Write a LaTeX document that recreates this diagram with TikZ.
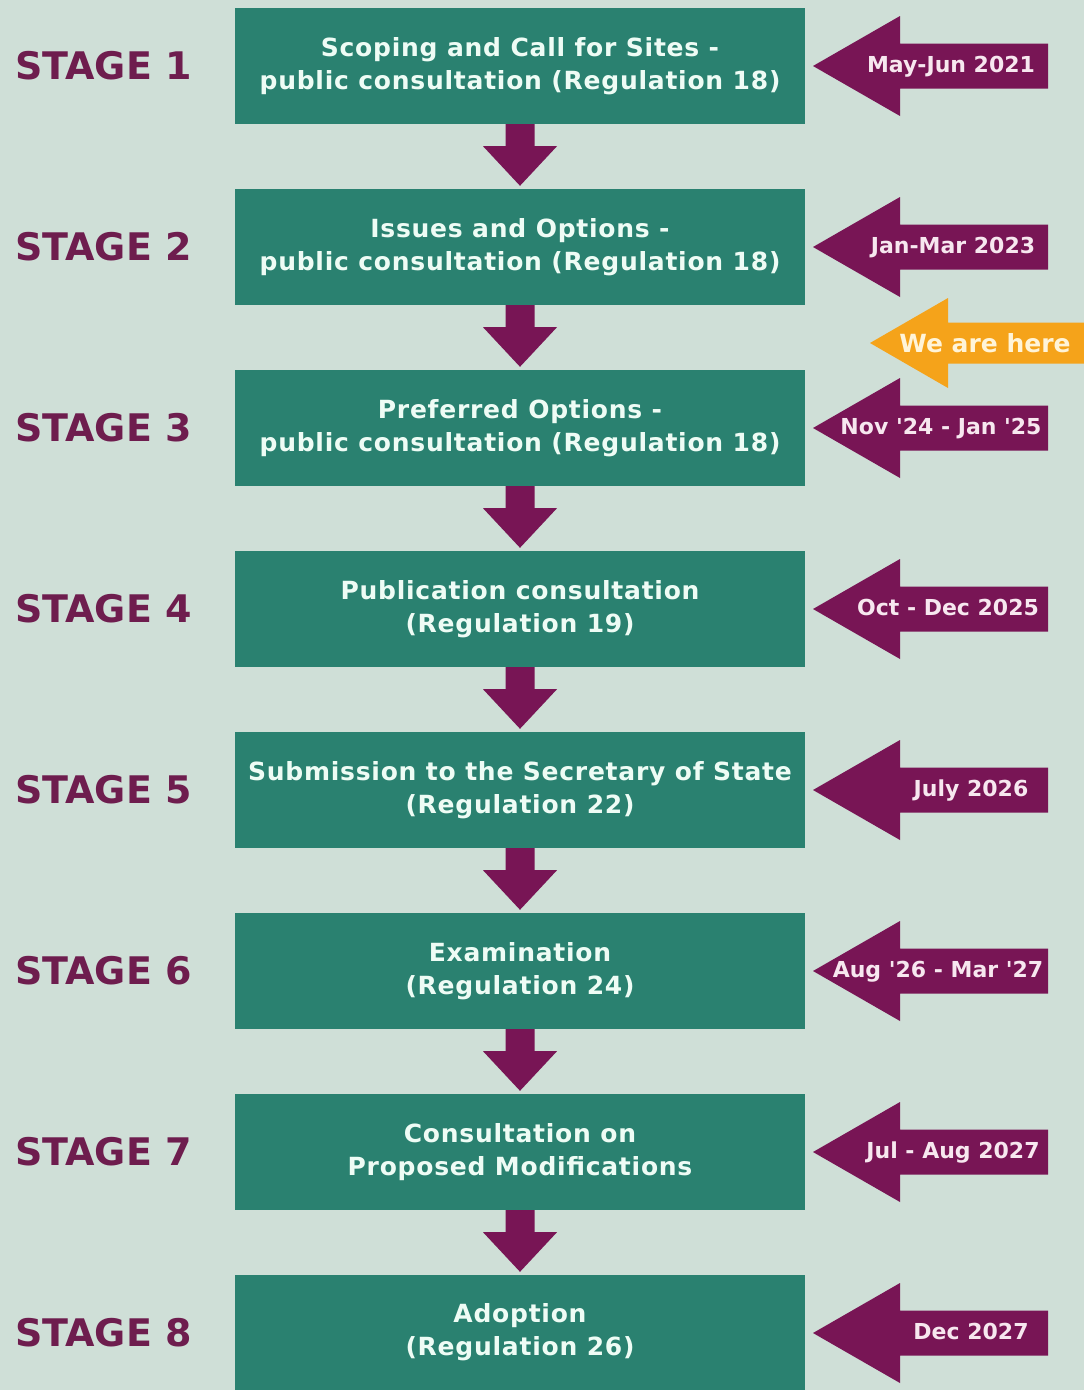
\documentclass[tikz,border=0pt]{standalone}
\usepackage{fontspec}
\setmainfont{DejaVu Sans}
\newfontfamily\boxfont{DejaVu Sans}[LetterSpace=3]
\usetikzlibrary{calc}
\definecolor{bgcol}{HTML}{CFDFD7}
\definecolor{boxgreen}{HTML}{2A8170}
\definecolor{boxtext}{HTML}{EEFCF5}
\definecolor{arrowpurple}{HTML}{781555}
\definecolor{stagepurple}{HTML}{6E1D4E}
\definecolor{datetextcol}{HTML}{F7E7EF}
\definecolor{hereorange}{HTML}{F5A31A}
\definecolor{heretext}{HTML}{FFF4D8}
\newcommand{\aq}{\textquotesingle}
\begin{document}
\begin{tikzpicture}[x=1pt,y=-1pt,
  stagebox/.style={fill=boxgreen, minimum width=570pt, minimum height=116pt, inner sep=0pt,
    align=center, text=boxtext, font=\boxfont\bfseries\fontsize{25}{33}\selectfont},
  stagelabel/.style={text=stagepurple, inner sep=0pt, anchor=west,
    font=\bfseries\fontsize{38}{40}\selectfont},
  datelabel/.style={text=datetextcol, inner sep=0pt, anchor=base,
    font=\bfseries\fontsize{22}{24}\selectfont},
  herelabel/.style={text=heretext, inner sep=0pt, anchor=base,
    font=\bfseries\fontsize{25}{28}\selectfont},
  downarrow/.style={fill=arrowpurple},
  datearrow/.style={fill=arrowpurple},
]
\fill[bgcol] (0,0) rectangle (1084,1390);
\useasboundingbox (0,0) rectangle (1084,1390);

% stage boxes
\node[stagebox] (b1) at (520,66)  {Scoping and Call for Sites -\\public consultation (Regulation 18)};
\node[stagebox] (b2) at (520,247) {Issues and Options -\\public consultation (Regulation 18)};
\node[stagebox] (b3) at (520,428) {Preferred Options -\\public consultation (Regulation 18)};
\node[stagebox] (b4) at (520,609) {Publication consultation\\(Regulation 19)};
\node[stagebox] (b5) at (520,790) {Submission to the Secretary of State\\(Regulation 22)};
\node[stagebox] (b6) at (520,971) {Examination\\(Regulation 24)};
\node[stagebox] (b7) at (520,1152) {Consultation on\\Proposed Modifications};
\node[stagebox, minimum height=115pt] (b8) at (520,1332.5) {Adoption\\(Regulation 26)};

% stage labels
\foreach \i/\y in {1/66,2/247,3/428,4/609,5/790,6/971,7/1152,8/1333}
  \node[stagelabel] (s\i) at (15,\y) {STAGE \i};

% down arrows between boxes
\foreach \a/\b in {b1/b2,b2/b3,b3/b4,b4/b5,b5/b6,b6/b7,b7/b8}
  \fill[downarrow] ($(\a.south)+(-14.5,0)$) -- ($(\a.south)+(-14.5,22)$)
    -- ($(\a.south)+(-37,22)$) -- ($(\b.north)+(0,-3)$)
    -- ($(\a.south)+(37,22)$) -- ($(\a.south)+(14.5,22)$)
    -- ($(\a.south)+(14.5,0)$) -- cycle;

% date arrows
\foreach \i/\y/\t/\tx in {1/66/May-Jun 2021/951, 2/247/Jan-Mar 2023/953,
    3/428/Nov \aq24 - Jan \aq25/941, 4/609/Oct - Dec 2025/948, 5/790/July 2026/971,
    6/971/Aug \aq26 - Mar \aq27/938, 7/1152/Jul - Aug 2027/953, 8/1333/Dec 2027/971} {
  \coordinate (d\i) at (813,\y);
  \fill[datearrow] (d\i) -- ++(87,-50) -- ++(0,27.5) -- ++(148,0) -- ++(0,45)
    -- ++(-148,0) -- ++(0,27.5) -- cycle;
  \node[datelabel] (dt\i) at ($(d\i)+(\tx-813,6)$) {\t};
}

% we are here
\coordinate (here) at (870,343);
\fill[hereorange] (here) -- ++(78,-45) -- ++(0,24.5) -- ++(136,0) -- ++(0,41)
  -- ++(-136,0) -- ++(0,24.5) -- cycle;
\node[herelabel] (heret) at ($(here)+(115,9)$) {We are here};
\end{tikzpicture}
\end{document}
